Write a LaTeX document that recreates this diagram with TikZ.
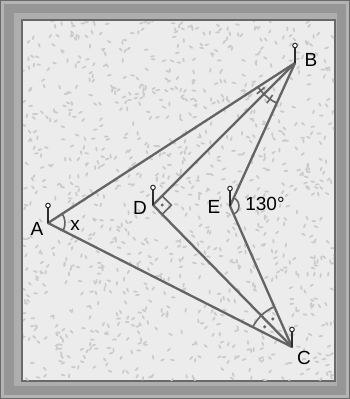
\documentclass[tikz,border=0pt]{standalone}
\usepackage{fontspec}
\setmainfont{Liberation Sans}
\usetikzlibrary{angles,calc}
\definecolor{framegray}{RGB}{150,150,150}
\definecolor{frameedge}{RGB}{105,105,105}
\definecolor{framelight}{RGB}{180,180,180}
\definecolor{boardgray}{RGB}{236,236,236}
\definecolor{specklegray}{RGB}{203,203,203}
\definecolor{linegray}{RGB}{100,100,100}
\definecolor{pingray}{RGB}{45,45,45}

\newcommand{\pinat}[1]{%
  \draw[pinline] (#1) -- ++(0,-15);
  \draw[pinhead] ($(#1)+(0,-17.5)$) circle (2.3);}

\begin{document}
\begin{tikzpicture}[x=1pt,y=-1pt,
    seg/.style={draw=linegray,line width=2.3pt,line cap=round},
    anglearc/.style={draw=linegray,line width=1.6pt},
    tick/.style={draw=linegray,line width=1.6pt},
    pinline/.style={draw=pingray,line width=1.8pt},
    pinhead/.style={draw=pingray,fill=white,line width=1pt},
    lbl/.style={font=\fontsize{19}{22}\selectfont,inner sep=0pt}]
  % frame and board
  \useasboundingbox (0,0) rectangle (350,399);
  \fill[framelight] (0,0) rectangle (350,399);
  \fill[framegray] (4,4) rectangle (346,395);
  \fill[framelight!80!framegray] (14,13) rectangle (337,386);
  \fill[boardgray] (22,20) rectangle (335,381);
  \draw[frameedge,line width=1.2pt] (22,20) rectangle (335,381);
  \draw[frameedge,line width=0.8pt] (0.4,0.4) rectangle (349.6,398.6);
  \begin{scope}
    \clip (23,21) rectangle (334,380);
    \pgfmathsetseed{11}
    \foreach \i in {1,...,1100}{
      \pgfmathsetmacro\sx{22+rnd*313}
      \pgfmathsetmacro\sy{20+rnd*361}
      \pgfmathsetmacro\sa{rnd*180}
      \fill[specklegray,rotate around={\sa:(\sx,\sy)}] (\sx,\sy) ellipse (2.4 and 1);
    }
  \end{scope}
  % points
  \coordinate (A) at (48,223);
  \coordinate (B) at (295,63);
  \coordinate (C) at (292,347);
  \coordinate (D) at (153,205);
  \coordinate (E) at (230,206);
  % segments
  \draw[seg] (A) -- (B);
  \draw[seg] (A) -- (C);
  \draw[seg] (B) -- (D);
  \draw[seg] (D) -- (C);
  \draw[seg] (B) -- (E);
  \draw[seg] (E) -- (C);
  % angle marks
  \pic[anglearc,angle radius=17pt] {angle=C--A--B};
  \pic[anglearc,angle radius=13pt] {right angle=C--D--B};
  \fill[linegray] ($(D)+(9.2,0)$) circle (1.6);
  \pic[anglearc,angle radius=9pt] {angle=C--E--B};
  \pic[anglearc,angle radius=44pt] {angle=A--B--D};
  \pic[anglearc,angle radius=44pt] {angle=D--B--E};
  \draw[tick] ($(B)!39pt!6:(A)$) -- ($(B)!49pt!6:(A)$);
  \draw[tick] ($(B)!39pt!10:(D)$) -- ($(B)!49pt!10:(D)$);
  \pic[anglearc,angle radius=44pt] {angle=D--C--A};
  \pic[anglearc,angle radius=44pt] {angle=E--C--D};
  \fill[linegray] ($(C)!34pt!-9.5:(A)$) circle (1.7);
  \fill[linegray] ($(C)!34pt!-10:(D)$) circle (1.7);
  % pins
  \foreach \p in {A,B,C,D,E}{\pinat{\p}}
  % labels
  \node[lbl] (labA) at (37,229) {A};
  \node[lbl] (labx) at (75,225) {x};
  \node[lbl] (labD) at (140,208) {D};
  \node[lbl] (labE) at (214,207) {E};
  \node[lbl] (labang) at (265,204) {130°};
  \node[lbl] (labB) at (311,60) {B};
  \node[lbl] (labC) at (304,358) {C};
\end{tikzpicture}
\end{document}
